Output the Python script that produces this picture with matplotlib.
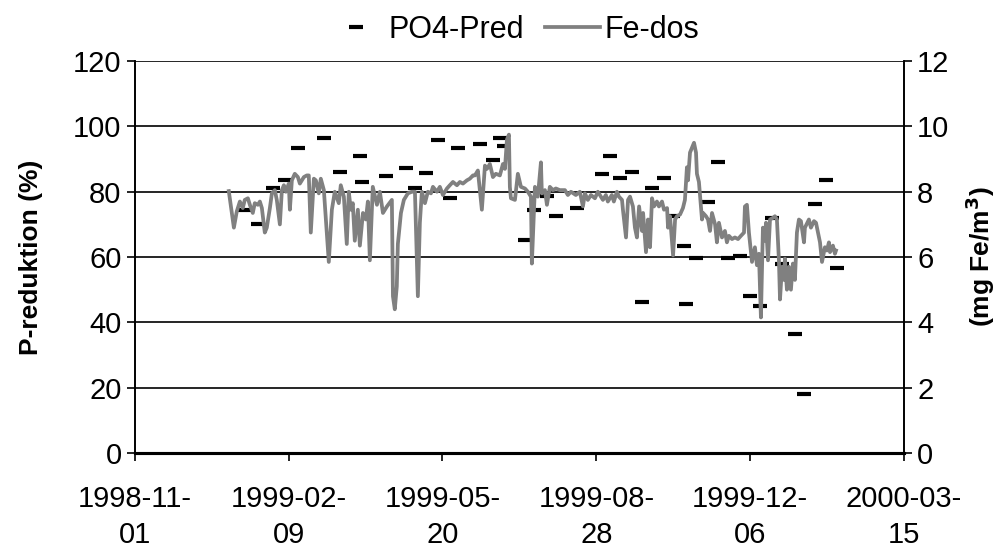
import numpy as np
import pandas as pd
import matplotlib
matplotlib.use('Agg')
import matplotlib.pyplot as plt

plt.rcParams['font.family'] = ['Liberation Sans', 'DejaVu Sans']

start = pd.Timestamp('1998-11-01')

# PO4-Pred, P-reduktion in %, days after 1998-11-01
pred_days = [71.5, 80.0, 89.7, 97.5, 106.0, 122.9, 133.3, 146.3, 147.6, 163.2,
             176.2, 182.1, 189.2, 197.0, 204.8, 210.0, 224.3, 232.8, 237.3, 239.9,
             253.6, 259.4, 267.9, 273.7, 287.4, 303.6, 308.8, 315.3, 323.1, 329.6,
             336.1, 344.0, 349.8, 357.0, 358.3, 364.8, 372.6, 379.0, 385.6, 393.4,
             399.9, 406.4, 414.2, 420.7, 429.1, 435.0, 442.1, 449.3, 456.4]
pred_vals = [74.4, 70.1, 81.1, 83.6, 93.4, 96.4, 86.0, 90.9, 83.0, 84.8,
             87.2, 81.1, 85.7, 95.8, 78.1, 93.4, 94.6, 89.7, 96.4, 94.0,
             65.2, 74.4, 78.7, 72.5, 75.0, 85.4, 90.9, 84.2, 86.0, 46.2,
             81.1, 84.2, 72.5, 63.4, 45.6, 59.7, 76.8, 89.1, 59.7, 60.3,
             48.1, 45.0, 71.9, 57.9, 36.4, 18.1, 76.2, 83.6, 56.6]

# Fe-dos, mg Fe/m3, days after 1998-11-01
fe_days = [61.1, 64.4, 66.3, 68.3, 70.2, 71.5, 73.5, 74.8, 76.7, 78.0,
           80.0, 81.3, 82.6, 84.5, 85.8, 87.8, 89.1, 91.0, 92.3, 94.3,
           95.6, 96.9, 98.2, 100.1, 100.8, 102.1, 104.0, 106.0, 107.3, 109.9,
           111.8, 113.1, 114.4, 116.4, 117.7, 119.6, 120.9, 122.9, 126.1, 128.1,
           130.0, 132.6, 133.9, 135.9, 137.8, 139.1, 140.4, 141.7, 143.0, 145.0,
           146.3, 148.3, 150.2, 151.5, 152.8, 154.7, 157.4, 159.3, 161.3, 163.9,
           167.1, 167.8, 169.0, 170.3, 171.0, 173.0, 174.9, 177.5, 180.1, 182.1,
           184.0, 185.3, 186.6, 188.6, 190.5, 192.5, 193.8, 196.4, 198.3, 200.3,
           202.9, 204.8, 206.8, 209.4, 211.3, 213.3, 215.9, 217.8, 219.8, 221.1,
           223.0, 225.6, 227.6, 228.9, 230.8, 232.8, 234.7, 237.3, 239.3, 240.6,
           241.9, 243.2, 243.8, 244.5, 247.1, 249.0, 251.0, 253.6, 255.5, 257.5,
           258.1, 260.1, 262.0, 264.0, 264.6, 266.6, 267.9, 269.8, 271.8, 273.7,
           276.3, 279.6, 281.5, 283.5, 286.7, 289.3, 291.3, 292.6, 294.5, 296.5,
           299.1, 301.0, 303.0, 304.3, 306.2, 307.5, 310.1, 311.4, 313.4, 314.7,
           316.7, 317.3, 319.3, 320.6, 321.9, 323.8, 325.1, 326.4, 327.8, 329.7,
           330.4, 332.3, 333.6, 334.9, 336.2, 337.5, 339.4, 340.7, 342.7, 344.0,
           346.0, 346.6, 347.9, 349.9, 351.2, 352.4, 354.4, 356.3, 357.6, 358.9,
           359.6, 360.9, 362.2, 363.5, 364.8, 365.4, 366.7, 368.7, 369.4, 371.3,
           372.6, 373.9, 375.2, 377.2, 378.4, 379.7, 381.7, 383.6, 384.9, 386.2,
           388.2, 390.1, 392.1, 394.0, 396.0, 396.6, 397.9, 399.2, 401.2, 403.1,
           404.4, 405.7, 407.0, 408.3, 409.6, 410.3, 411.6, 412.9, 414.8, 416.1,
           417.4, 418.7, 419.4, 420.7, 422.0, 422.6, 423.9, 425.2, 426.5, 427.8,
           429.1, 430.4, 431.7, 433.0, 435.0, 435.6, 438.2, 439.5, 441.5, 442.8,
           444.1, 445.4, 446.7, 448.6, 449.9, 451.2, 451.9, 453.8, 455.1, 455.8]
fe_vals = [8.02, 6.9, 7.4, 7.7, 7.5, 7.75, 7.8, 7.6, 7.35, 7.65,
           7.6, 7.7, 7.5, 6.75, 6.9, 7.5, 7.95, 8.05, 7.75, 7.0,
           8.05, 8.2, 8.0, 8.25, 7.45, 8.35, 8.55, 8.45, 8.25, 8.45,
           8.5, 8.5, 6.75, 8.4, 8.35, 7.95, 8.4, 8.05, 5.85, 7.45,
           8.0, 7.65, 8.2, 7.85, 6.4, 8.0, 7.45, 7.65, 6.5, 7.45,
           6.35, 7.35, 7.15, 7.7, 5.9, 8.15, 7.6, 8.0, 7.35, 7.55,
           7.75, 4.8, 4.4, 5.1, 6.4, 7.35, 7.75, 7.95, 8.0, 8.0,
           4.8, 7.05, 8.0, 7.65, 8.0, 7.95, 8.15, 8.0, 8.15, 7.9,
           8.1, 8.2, 8.3, 8.2, 8.3, 8.25, 8.35, 8.4, 8.5, 8.5,
           8.65, 7.45, 8.8, 8.7, 8.85, 8.45, 8.55, 8.5, 8.85, 8.7,
           9.6, 9.75, 8.15, 7.8, 7.75, 8.55, 8.15, 8.1, 8.0, 7.85,
           5.8, 8.15, 7.85, 8.9, 7.95, 8.05, 7.6, 8.15, 8.05, 8.1,
           8.05, 8.05, 7.9, 8.0, 7.9, 8.0, 7.55, 7.95, 7.75, 7.9,
           7.8, 8.0, 7.85, 7.75, 7.9, 7.7, 7.9, 7.7, 8.0, 7.85,
           7.75, 7.45, 6.6, 7.75, 7.85, 7.55, 6.9, 6.6, 7.55, 6.8,
           7.35, 6.15, 7.15, 6.3, 7.8, 7.55, 7.7, 7.55, 7.7, 7.45,
           7.5, 6.9, 7.25, 6.05, 7.15, 7.25, 7.3, 7.5, 7.75, 8.75,
           8.35, 9.2, 9.35, 9.5, 9.2, 8.55, 8.3, 7.15, 7.35, 7.25,
           7.15, 6.8, 7.35, 7.0, 6.45, 7.05, 6.6, 6.8, 6.45, 6.65,
           6.55, 6.6, 6.55, 6.65, 6.75, 7.55, 7.6, 6.75, 5.85, 6.3,
           5.75, 6.1, 4.15, 6.9, 6.5, 7.05, 5.9, 7.15, 7.2, 7.25,
           7.15, 5.9, 4.7, 5.7, 5.3, 5.95, 5.0, 5.7, 5.0, 5.8,
           5.3, 6.75, 7.15, 7.1, 6.45, 6.9, 7.15, 6.9, 7.1, 7.05,
           6.75, 6.45, 5.85, 6.3, 6.2, 6.45, 6.15, 6.35, 6.1, 6.2]

tick_days = [0, 100, 200, 300, 400, 500]

pred_dates = start + pd.to_timedelta(pred_days, unit='D')
fe_dates = start + pd.to_timedelta(fe_days, unit='D')
tick_dates = start + pd.to_timedelta(tick_days, unit='D')

fig = plt.figure(figsize=(10.06, 5.51), dpi=100)
ax = fig.add_axes([0.134, 0.178, 0.7646, 0.711])
ax2 = ax.twinx()

p1, = ax.plot(pred_dates, pred_vals, linestyle='none', marker='_',
              markersize=10, markeredgewidth=3, color='black', label='PO4-Pred')
p2, = ax2.plot(fe_dates, fe_vals, color='#808080', lw=2.7, label='Fe-dos')

ax.set_xlim(tick_dates[0], tick_dates[-1])
ax.set_ylim(0, 120)
ax2.set_ylim(0, 12)
ax.set_yticks(np.arange(0, 121, 20))
ax2.set_yticks(np.arange(0, 13, 2))
ax.set_xticks(tick_dates)
ax.set_xticklabels([d.strftime('%Y-%m-\n%d') for d in tick_dates])

ax.grid(axis='y', color='black', lw=1.2)
ax.set_axisbelow(True)
for a in (ax, ax2):
    a.spines['top'].set_visible(False)
    a.spines['left'].set_linewidth(1.2)
    a.spines['right'].set_linewidth(1.2)
    a.spines['bottom'].set_linewidth(2.2)
    a.tick_params(labelsize=21, length=6, width=1.2, color='black')
ax.tick_params(axis='x', pad=17, labelsize=21)
for t in ax.get_xticklabels():
    t.set_linespacing(1.35)

ax.set_ylabel('P-reduktion (%)', fontsize=19, fontweight='bold', labelpad=22)
ax2.set_ylabel('(mg Fe/m$^\\mathbf{3}$)', fontsize=19, fontweight='bold', labelpad=10)

fig.legend([p1, p2], ['PO4-Pred', 'Fe-dos'], loc='center',
           bbox_to_anchor=(514 / 1006, 1 - 30 / 551), ncol=2, frameon=False,
           fontsize=22, handlelength=1.8, handletextpad=0.15, columnspacing=0.7)

fig.savefig('out.png', dpi=100)
